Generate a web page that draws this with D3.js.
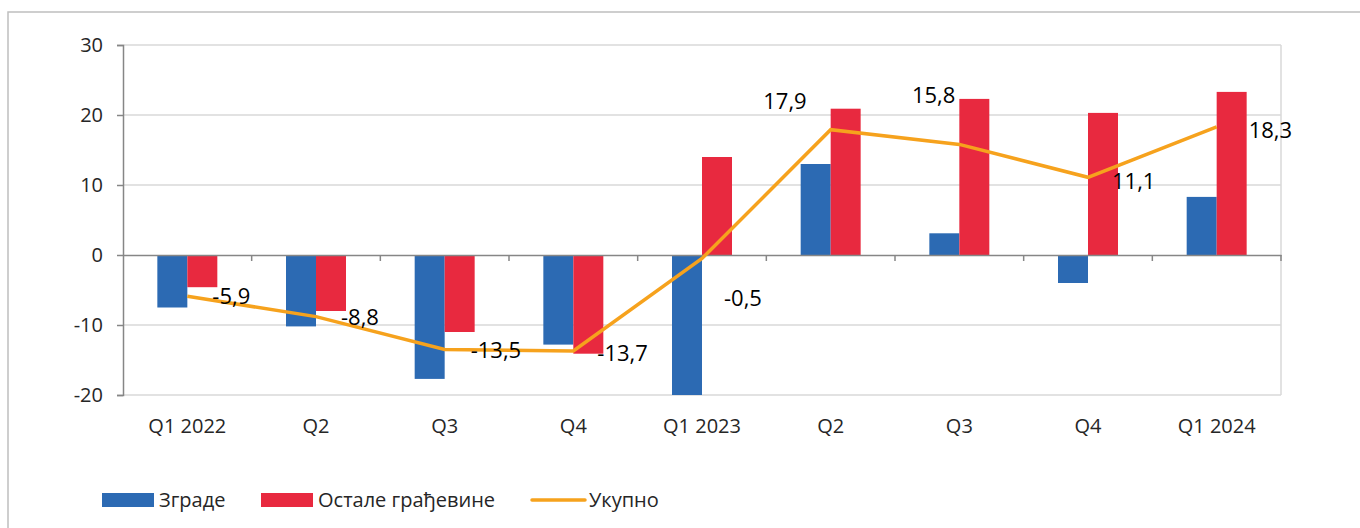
<!DOCTYPE html>
<html>
<head>
<meta charset="utf-8">
<script src="https://cdn.jsdelivr.net/npm/d3@7"></script>
<style>
  body { margin: 0; background: #fff; }
  text { font-family: "Open Sans", sans-serif; fill: #262626; }
</style>
</head>
<body>
<div id="chart"></div>
<script>
// data
var quarters = ["Q1 2022", "Q2", "Q3", "Q4", "Q1 2023", "Q2", "Q3", "Q4", "Q1 2024"];
var buildings = [-7.5, -10.2, -17.7, -12.8, -20.3, 13.0, 3.1, -4.0, 8.3];
var otherWorks = [-4.6, -8.0, -11.0, -14.1, 14.0, 20.9, 22.3, 20.3, 23.3];
var total = [-5.9, -8.8, -13.5, -13.7, -0.5, 17.9, 15.8, 11.1, 18.3];
var yTicks = [-20, -10, 0, 10, 20, 30];
var seriesNames = ["Зграде", "Остале грађевине", "Укупно"];

var colors = ["#2c6ab3", "#e8293f", "#f6a21d"];

// label offsets from the line point (dx, dy, anchor), as placed in the original
var labelPlace = [
  [25, 0, "start"], [25, 1, "start"], [26, 1, "start"], [24, 2, "start"],
  [22, 40, "start"], [-24, -28, "end"], [-4, -49, "end"], [24, 4, "start"], [32, 3, "start"]
];

var W = 1360, H = 528;
var plot = {left: 123, right: 1281, top: 45, bottom: 395};

// comma decimals, plain hyphen for minus
var fmt = function(d, p) {
  return d3.format(p)(d).replace(".", ",").replace("\u2212", "-");
};

var svg = d3.select("#chart").append("svg")
    .attr("width", W)
    .attr("height", H);

// outer chart frame (runs off the right and bottom of the picture)
svg.append("rect")
    .attr("x", 8).attr("y", 12)
    .attr("width", W + 20).attr("height", H + 20)
    .attr("fill", "none")
    .attr("stroke", "#bfbfbf")
    .attr("stroke-width", 1.5);

var x = d3.scaleBand()
    .domain(d3.range(quarters.length))
    .range([plot.left, plot.right])
    .paddingInner(0).paddingOuter(0);

var x1 = d3.scaleBand()
    .domain([0, 1])
    .range([0, x.bandwidth()])
    .paddingInner(0)
    .paddingOuter(1.145);

var y = d3.scaleLinear()
    .domain([-20, 30])
    .range([plot.bottom, plot.top]);

// gridlines
svg.append("g")
  .selectAll("line")
  .data(yTicks.filter(function(d) { return d != 0; }))
  .enter().append("line")
    .attr("x1", plot.left).attr("x2", plot.right)
    .attr("y1", function(d) { return y(d); })
    .attr("y2", function(d) { return y(d); })
    .attr("stroke", "#d9d9d9")
    .attr("stroke-width", 1.5);

// right edge of the plot area
svg.append("line")
    .attr("x1", plot.right).attr("x2", plot.right)
    .attr("y1", plot.top).attr("y2", plot.bottom)
    .attr("stroke", "#d9d9d9")
    .attr("stroke-width", 1.5);

// bars
svg.append("defs").append("clipPath").attr("id", "plotclip")
  .append("rect")
    .attr("x", plot.left).attr("y", plot.top)
    .attr("width", plot.right - plot.left)
    .attr("height", plot.bottom - plot.top);

var bars = svg.append("g").attr("clip-path", "url(#plotclip)");
[buildings, otherWorks].forEach(function(vals, s) {
  bars.selectAll(".bar" + s)
    .data(vals)
    .enter().append("rect")
      .attr("class", "bar" + s)
      .attr("x", function(d, i) { return x(i) + x1(s); })
      .attr("width", x1.bandwidth())
      .attr("y", function(d) { return y(Math.max(0, d)); })
      .attr("height", function(d) { return Math.abs(y(d) - y(0)); })
      .attr("fill", colors[s]);
});

// y axis
var yAxis = svg.append("g")
    .attr("transform", "translate(" + plot.left + ",0)")
    .call(d3.axisLeft(y).tickValues(yTicks).tickSize(6).tickPadding(14)
      .tickFormat(function(d) { return fmt(d, "d"); }));
yAxis.select(".domain").attr("stroke", "#868686").attr("stroke-width", 1.5);
yAxis.selectAll(".tick line").attr("stroke", "#868686").attr("stroke-width", 1.5);
yAxis.selectAll(".tick text")
    .style("font-size", "20px")
    .style("font-family", "'Open Sans', sans-serif")
    .attr("fill", "#262626");

// zero line with category ticks
var xAxis = svg.append("g")
    .attr("transform", "translate(0," + y(0) + ")")
    .call(d3.axisBottom(x).tickValues([]).tickSizeOuter(0));
xAxis.select(".domain").attr("stroke", "#868686").attr("stroke-width", 1.5);
xAxis.selectAll(".cat-tick")
  .data(d3.range(1, quarters.length + 1))
  .enter().append("line")
    .attr("class", "cat-tick")
    .attr("x1", function(i) { return plot.left + i * x.step(); })
    .attr("x2", function(i) { return plot.left + i * x.step(); })
    .attr("y1", 0).attr("y2", 6)
    .attr("stroke", "#868686")
    .attr("stroke-width", 1.5);

// category labels
svg.append("g")
  .selectAll("text")
  .data(quarters)
  .enter().append("text")
    .attr("x", function(d, i) { return x(i) + x.bandwidth() / 2; })
    .attr("y", plot.bottom + 38)
    .attr("text-anchor", "middle")
    .style("font-size", "20px")
    .text(function(d) { return d; });

// total line
var cx = function(i) { return x(i) + x.bandwidth() / 2; };
var line = d3.line()
    .x(function(d, i) { return cx(i); })
    .y(function(d) { return y(d); });

svg.append("path")
    .datum(total)
    .attr("d", line)
    .attr("fill", "none")
    .attr("stroke", colors[2])
    .attr("stroke-width", 3.5);

// data labels
svg.append("g")
  .selectAll("text")
  .data(total)
  .enter().append("text")
    .attr("x", function(d, i) { return cx(i) + labelPlace[i][0]; })
    .attr("y", function(d, i) { return y(d) + labelPlace[i][1]; })
    .attr("dy", "0.35em")
    .attr("text-anchor", function(d, i) { return labelPlace[i][2]; })
    .style("font-size", "22px")
    .style("fill", "#000")
    .text(function(d) { return fmt(d, ".1f"); });

// legend
var legend = svg.append("g").attr("transform", "translate(0,500)");
var legendX = [102, 261, 532];
seriesNames.forEach(function(name, s) {
  var g = legend.append("g").attr("transform", "translate(" + legendX[s] + ",0)");
  if (s < 2) {
    g.append("rect")
        .attr("x", 0).attr("y", -7)
        .attr("width", 52).attr("height", 14)
        .attr("fill", colors[s]);
  } else {
    g.append("line")
        .attr("x1", 0).attr("x2", 53)
        .attr("y1", 0).attr("y2", 0)
        .attr("stroke", colors[s])
        .attr("stroke-width", 3.5)
        .attr("stroke-linecap", "round");
  }
  g.append("text")
      .attr("x", 57)
      .attr("y", 0)
      .attr("dy", "0.35em")
      .style("font-size", "20px")
      .text(name);
});
</script>
</body>
</html>
